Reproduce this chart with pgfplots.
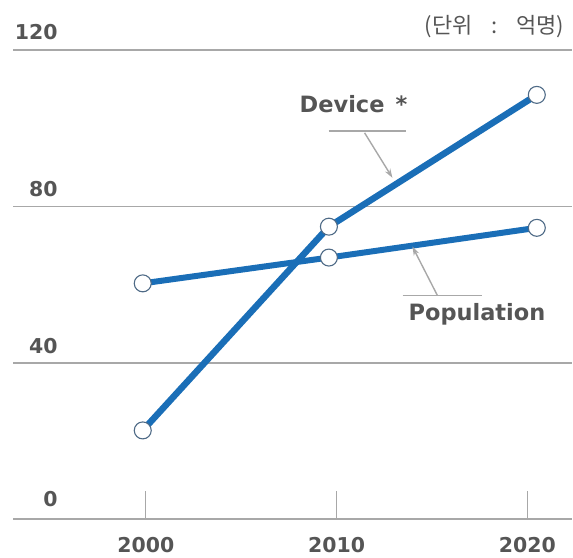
\documentclass[border=0pt]{standalone}
\usepackage{fontspec}
\setmainfont{DejaVu Sans}
\newfontfamily\kr{Noto Sans CJK KR}
\usepackage{pgfplots}
\pgfplotsset{compat=1.18}
\usetikzlibrary{arrows.meta}

\definecolor{lineblue}{HTML}{1A6EB7}
\definecolor{txtgray}{HTML}{555555}
\definecolor{gridgray}{HTML}{A8A8A8}
\definecolor{markedge}{HTML}{4E6A86}

\newcommand{\lab}{\fontsize{20.5}{24}\selectfont\bfseries\color{txtgray}}
\newcommand{\ann}{\fontsize{22.5}{26}\selectfont\bfseries\color{txtgray}}

\begin{document}
\begin{tikzpicture}
\begin{axis}[
    scale only axis,
    width=560pt, height=470pt,
    xmin=1993.04, xmax=2022.356,
    ymin=0, ymax=120,
    clip=false,
    axis line style={draw=none},
    ytick={0,40,80,120},
    yticklabels={},
    ymajorgrids,
    grid style={gridgray, line width=1.6pt},
    ytick style={draw=none},
    xtick={2000,2010,2020},
    xtick pos=bottom,
    tick align=inside,
    major tick length=28pt,
    xtick style={gridgray, line width=1.2pt},
    /pgf/number format/assume math mode=true,
    /pgf/number format/1000 sep={},
    xticklabel style={font=\lab, inner sep=0pt, anchor=north, yshift=-18pt},
]
% invisible frame for the page size
\path (axis cs:1992.356,-9.70) rectangle (axis cs:2022.356,132.76);

\addplot[lineblue, line width=6.5pt, mark=*, mark size=8.5pt,
    mark options={fill=white, draw=markedge, line width=1.1pt}]
    coordinates {(1999.84,22.7) (2009.6,74.8) (2020.5,108.5)};
\addplot[lineblue, line width=6pt, mark=*, mark size=8.5pt,
    mark options={fill=white, draw=markedge, line width=1.1pt}]
    coordinates {(1999.84,60.3) (2009.6,66.9) (2020.5,74.5)};

% y tick labels above grid lines
\node[anchor=base east, inner sep=0pt, font=\lab] at (axis cs:1995.39,122.55) {120};
\node[anchor=base east, inner sep=0pt, font=\lab] at (axis cs:1995.39,82.5) {80};
\node[anchor=base east, inner sep=0pt, font=\lab] at (axis cs:1995.39,42.4) {40};
\node[anchor=base east, inner sep=0pt, font=\lab] at (axis cs:1995.39,3.3) {0};

% unit
\node[anchor=north east, inner sep=0pt, font={\kr\fontsize{22}{25}\selectfont\color{txtgray}}]
    at (axis cs:2021.94,128.9) {(단위\hspace{0.85em}:\hspace{0.85em}억명)};

% annotations
\node[anchor=base west, inner sep=0pt, font=\ann] at (axis cs:2008.06,103.9) {Device\hspace{0.5em}*};
\draw[gridgray, line width=1.4pt] (axis cs:2009.58,99.3) -- (axis cs:2013.66,99.3);
\draw[gridgray, line width=1.4pt, -{Stealth[length=9pt,width=6pt]}] (axis cs:2011.47,98.8) -- (axis cs:2012.93,87.3);

\node[anchor=base west, inner sep=0pt, font=\ann] at (axis cs:2013.77,50.8) {Population};
\draw[gridgray, line width=1.4pt] (axis cs:2013.46,57.19) -- (axis cs:2017.64,57.19);
\draw[gridgray, line width=1.4pt, -{Stealth[length=9pt,width=6pt]}] (axis cs:2015.29,57.19) -- (axis cs:2013.98,69.7);
\end{axis}
\end{tikzpicture}
\end{document}
